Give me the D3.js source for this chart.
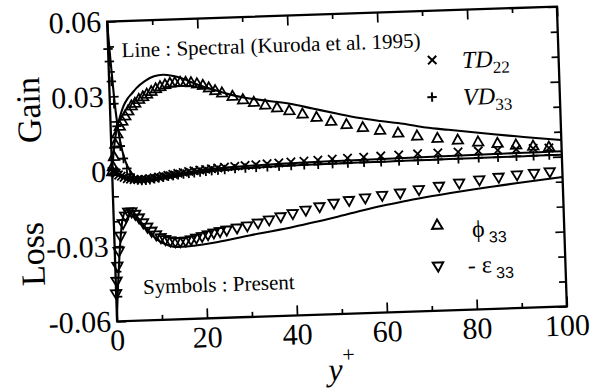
<!DOCTYPE html>
<html>
<head>
<meta charset="utf-8">
<script src="https://cdn.jsdelivr.net/npm/d3@7"></script>
<style>
  body { margin: 0; background: #fff; }
</style>
</head>
<body>
<svg width="611" height="392"></svg>
<script>
// Symbols (present model), all on the same y+ grid
var yPlus = [0, 0.2, 0.5, 0.9, 1.4, 2.0, 2.6, 3.3, 4.0, 4.8, 5.6, 6.5, 7.4, 8.3, 9.3, 10.3, 11.3, 12.4, 13.5, 14.6, 15.8, 17.0, 18.2, 19.5, 20.8, 22.1, 23.5, 25.0, 27.3, 29.6, 32.0, 34.5, 37.1, 39.8, 42.7, 45.8, 49.0, 52.4, 56.0, 59.8, 63.8, 68.0, 72.5, 77.0, 81.5, 85.8, 89.9, 93.7, 97.2];
var td22Sym = [0, 0, -0.0003, -0.0008, -0.0015, -0.002, -0.0025, -0.003, -0.0033, -0.0035, -0.0036, -0.0036, -0.0035, -0.0033, -0.0031, -0.0028, -0.0025, -0.0022, -0.0019, -0.0016, -0.0013, -0.001, -0.0008, -0.0006, -0.0004, -0.0002, 0, 0.0002, 0.0004, 0.0006, 0.0008, 0.001, 0.0012, 0.0014, 0.0016, 0.0018, 0.002, 0.0022, 0.0024, 0.0026, 0.0028, 0.003, 0.0031, 0.0032, 0.0033, 0.0034, 0.0035, 0.0036, 0.0036];
var vd33Sym = [0.049, 0.044, 0.036, 0.027, 0.018, 0.010, 0.005, 0.001, -0.0015, -0.003, -0.0038, -0.004, -0.004, -0.0038, -0.0035, -0.0032, -0.003, -0.0027, -0.0025, -0.0022, -0.002, -0.0018, -0.0016, -0.0014, -0.0012, -0.001, -0.0009, -0.0007, -0.0005, -0.0004, -0.0003, -0.0002, -0.0001, 0, 0.0001, 0.0001, 0.0002, 0.0002, 0.0003, 0.0003, 0.0004, 0.0004, 0.0005, 0.0005, 0.0006, 0.0006, 0.0007, 0.0007, 0.0008];
var phi33Sym = [0, 0.002, 0.006, 0.011, 0.015, 0.018, 0.020, 0.022, 0.024, 0.026, 0.027, 0.0285, 0.0295, 0.0305, 0.0315, 0.0325, 0.0333, 0.034, 0.0345, 0.0347, 0.0348, 0.0347, 0.0345, 0.034, 0.0333, 0.0322, 0.031, 0.030, 0.0285, 0.027, 0.0258, 0.0246, 0.0233, 0.022, 0.0205, 0.019, 0.0172, 0.0157, 0.0143, 0.013, 0.0116, 0.0102, 0.009, 0.008, 0.007, 0.0062, 0.0053, 0.0046, 0.004];
var eps33Sym = [-0.049, -0.044, -0.038, -0.032, -0.026, -0.021, -0.018, -0.0165, -0.0165, -0.0175, -0.019, -0.021, -0.0228, -0.0245, -0.026, -0.0272, -0.028, -0.0286, -0.029, -0.029, -0.0288, -0.0284, -0.0278, -0.0272, -0.0266, -0.026, -0.0255, -0.025, -0.0243, -0.0236, -0.0226, -0.0215, -0.0204, -0.0193, -0.0181, -0.0169, -0.0157, -0.0148, -0.014, -0.0132, -0.0125, -0.0114, -0.0103, -0.0093, -0.0083, -0.0075, -0.0068, -0.0064, -0.006];

// Lines (spectral DNS, Kuroda et al. 1995)
var yPlusLine = [0, 0.5, 1, 1.5, 2, 3, 4, 5, 6, 8, 10, 12, 14, 16, 18, 20, 23, 26, 30, 35, 40, 45, 50, 55, 60, 65, 70, 75, 80, 85, 90, 95, 100];
var phi33Line = [0, 0.008, 0.014, 0.018, 0.021, 0.026, 0.029, 0.031, 0.033, 0.0358, 0.0375, 0.038, 0.0375, 0.0365, 0.0348, 0.0333, 0.0314, 0.0296, 0.0277, 0.0262, 0.0247, 0.0225, 0.0203, 0.0182, 0.0166, 0.0152, 0.0134, 0.0122, 0.011, 0.0098, 0.0087, 0.0076, 0.0066];
var vd33Line = [0.059, 0.043, 0.029, 0.019, 0.012, 0.004, 0, -0.0025, -0.0035, -0.004, -0.0037, -0.0032, -0.0027, -0.0022, -0.0018, -0.0015, -0.0011, -0.0008, -0.0005, -0.0002, 0, 0.0001, 0.0002, 0.0003, 0.0003, 0.0004, 0.0004, 0.0005, 0.0005, 0.0006, 0.0006, 0.0007, 0.0007];
var td22Line = [0, -0.0003, -0.0008, -0.0013, -0.0018, -0.0027, -0.0033, -0.0036, -0.0037, -0.0035, -0.003, -0.0024, -0.0019, -0.0014, -0.001, -0.0006, -0.0002, 0.0001, 0.0004, 0.0007, 0.0009, 0.0011, 0.0012, 0.0013, 0.0014, 0.0015, 0.0016, 0.0017, 0.0018, 0.0019, 0.002, 0.002, 0.0021];
var eps33Line = [-0.058, -0.045, -0.034, -0.025, -0.019, -0.0155, -0.016, -0.018, -0.0205, -0.025, -0.0285, -0.0303, -0.031, -0.031, -0.0307, -0.0303, -0.0296, -0.0287, -0.0274, -0.026, -0.0245, -0.0228, -0.021, -0.019, -0.0172, -0.0157, -0.0143, -0.0131, -0.012, -0.011, -0.01, -0.0091, -0.0082];

// ticks
var xTicks = [0, 20, 40, 60, 80, 100];
var xMinor = [10, 30, 50, 70, 90];
var yTicks = [-0.06, -0.03, 0, 0.03, 0.06];
var yTickLabels = ["-0.06", "-0.03", "0", "0.03", "0.06"];
var yMinor = [-0.05, -0.04, -0.02, -0.01, 0.01, 0.02, 0.04, 0.05];

var serif = "'Liberation Serif', 'DejaVu Serif', 'Times New Roman', serif";
var sans = "'Liberation Sans', 'DejaVu Sans', Arial, sans-serif";

var svg = d3.select("svg");
var width = 450, height = 300;

// the scanned figure is slightly tilted
const g = svg.append("g")
  .attr("transform", "rotate(-1.9,337,164) translate(112,14)");

var x = d3.scaleLinear().domain([0, 100]).range([0, width]);
var y = d3.scaleLinear().domain([-0.06, 0.06]).range([height, 0]);

function txt(sel) {
  return sel.append("text").attr("font-family", serif).attr("fill", "#000");
}

// AXES
function tickAxis(axis, scale, vals, size, tr) {
  var a = g.append("g").attr("transform", tr)
    .call(axis(scale).tickValues(vals).tickSize(-size).tickFormat(""));
  a.select(".domain").remove();
  a.selectAll("line").attr("stroke", "#000").attr("stroke-width", 1.7);
  return a;
}
tickAxis(d3.axisBottom, x, xTicks, 10, `translate(0,${height})`);
tickAxis(d3.axisBottom, x, xMinor, 5, `translate(0,${height})`);
tickAxis(d3.axisTop, x, xTicks, 10, "translate(0,0)");
tickAxis(d3.axisTop, x, xMinor, 5, "translate(0,0)");
tickAxis(d3.axisLeft, y, yTicks, 9, "translate(0,0)");
tickAxis(d3.axisLeft, y, yMinor, 6, "translate(0,0)");
tickAxis(d3.axisRight, y, yTicks, 9, `translate(${width},0)`);
tickAxis(d3.axisRight, y, yMinor, 7, `translate(${width},0)`);

g.append("rect")
  .attr("width", width).attr("height", height)
  .attr("fill", "none").attr("stroke", "#000").attr("stroke-width", 2.3);

// tick labels
xTicks.forEach((d) => {
  txt(g).attr("x", x(d)).attr("y", height + 29)
    .attr("text-anchor", "middle").attr("font-size", 30)
    .text(d);
});
yTicks.forEach((d, i) => {
  txt(g).attr("x", -6).attr("y", y(d) + 10)
    .attr("text-anchor", "end").attr("font-size", 30)
    .text(yTickLabels[i]);
});

// axis titles
txt(g).attr("transform", "translate(-70,86) rotate(-90)")
  .attr("text-anchor", "middle").attr("font-size", 34).text("Gain");
txt(g).attr("transform", "translate(-71,230) rotate(-90)")
  .attr("text-anchor", "middle").attr("font-size", 34).text("Loss");
var yl = txt(g).attr("x", x(50) - 2).attr("y", height + 66)
  .attr("text-anchor", "middle").attr("font-size", 32);
yl.append("tspan").attr("font-style", "italic").text("y");
yl.append("tspan").attr("dy", -18).attr("font-size", 22).text("+");

// LINES
var line = d3.line()
  .x((d) => x(d[0]))
  .y((d) => y(d[1]))
  .curve(d3.curveMonotoneX);
[phi33Line, vd33Line, td22Line, eps33Line].forEach((s) => {
  g.append("path")
    .datum(yPlusLine.map((v, i) => [v, s[i]]))
    .attr("d", line)
    .attr("fill", "none").attr("stroke", "#000").attr("stroke-width", 2.1);
});

// SYMBOLS
function shape(type) {
  if (type === "up") return "M0,-5.4L5.2,3.7L-5.2,3.7Z";
  if (type === "down") return "M0,5.4L5.2,-3.7L-5.2,-3.7Z";
  if (type === "cross") return "M-4.2,-4.2L4.2,4.2M-4.2,4.2L4.2,-4.2";
  return "M-4.7,0L4.7,0M0,-4.7L0,4.7";
}
var series = [
  { vals: td22Sym, type: "cross" },
  { vals: vd33Sym, type: "plus" },
  { vals: phi33Sym, type: "up" },
  { vals: eps33Sym, type: "down" }
];
series.forEach((s) => {
  g.append("g").selectAll("path")
    .data(yPlus.map((v, i) => [v, s.vals[i]]))
    .enter().append("path")
    .attr("transform", (d) => `translate(${x(d[0])},${y(d[1])})`)
    .attr("d", shape(s.type))
    .attr("fill", "none").attr("stroke", "#000").attr("stroke-width", 1.8);
});

// annotations
txt(g).attr("x", x(3)).attr("y", y(0.0455))
  .attr("font-size", 21).text("Line : Spectral (Kuroda et al. 1995)");
txt(g).attr("x", x(6)).attr("y", y(-0.0494))
  .attr("font-size", 21).text("Symbols : Present");

// LEGEND
var legend = [
  { type: "cross", sx: 71.9, sy: 0.0403, tx: 78.5, ty: 0.0367, main: "TD", sub: "22", italic: true },
  { type: "plus", sx: 71.6, sy: 0.0255, tx: 78.5, ty: 0.0219, main: "VD", sub: "33", italic: true },
  { type: "up", sx: 71.8, sy: -0.0257, tx: 79.5, ty: -0.031, main: "\u03D5", sub: "33", italic: false },
  { type: "down", sx: 71.7, sy: -0.0422, tx: 78.3, ty: -0.0454, main: "- \u03B5", sub: "33", italic: false }
];
legend.forEach((l) => {
  g.append("path")
    .attr("transform", `translate(${x(l.sx)},${y(l.sy)})`)
    .attr("d", shape(l.type))
    .attr("fill", "none").attr("stroke", "#000").attr("stroke-width", 2);
  var t = txt(g).attr("x", x(l.tx)).attr("y", y(l.ty)).attr("font-size", 24);
  t.append("tspan").attr("font-style", l.italic ? "italic" : "normal").text(l.main);
  if (l.italic) {
    t.append("tspan").attr("dy", 6).attr("font-size", 17).text(l.sub);
  } else {
    t.append("tspan").attr("dy", 6).attr("dx", 4).attr("font-size", 16)
      .attr("font-family", sans).text(l.sub);
  }
});
</script>
</body>
</html>
